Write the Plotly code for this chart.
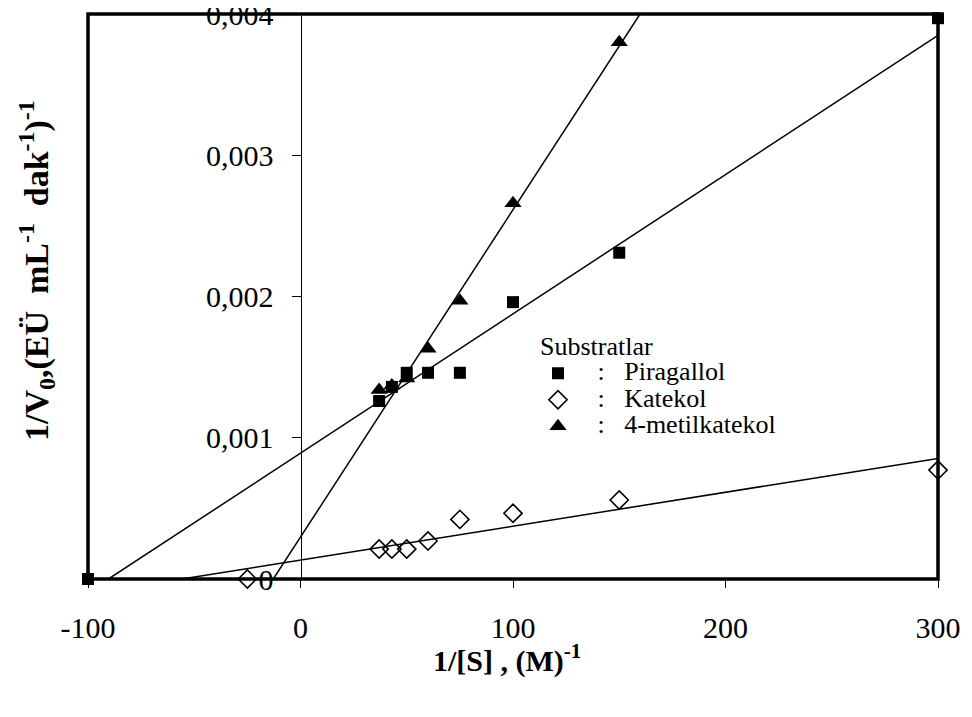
import plotly.graph_objects as go

# ---- data ----
series_names = ["Piragallol", "Katekol", "4-metilkatekol"]

pir_x = [-100, 37, 43, 50, 60, 75, 100, 150, 300]
pir_y = [0.0, 0.00126, 0.00136, 0.00146, 0.00146, 0.00146, 0.00196, 0.00231, 0.00397]

kat_x = [-25, 37, 43, 50, 60, 75, 100, 150, 300]
kat_y = [0.0, 0.000212, 0.000212, 0.000212, 0.000269, 0.000422, 0.000465, 0.000559, 0.000771]

met_x = [37, 43, 50, 60, 75, 100, 150]
met_y = [0.001338, 0.00137, 0.00142, 0.00163, 0.00197, 0.00266, 0.0038]

# Lineweaver-Burk fit lines: slope, intercept
fit_slope = [9.86e-6, 2.40e-6, 2.3175e-5]
fit_intercept = [0.000891, 0.000134, 0.000297]

x_ticks = [-100, 0, 100, 200, 300]
x_tick_text = ["-100", "0", "100", "200", "300"]
y_ticks = [0, 0.001, 0.002, 0.003, 0.004]
y_tick_text = ["0", "0,001", "0,002", "0,003", "0,004"]

x_range = [-100, 300]
y_range = [0, 0.004]

FONT = "Liberation Serif, Times New Roman, serif"

fig = go.Figure()

# regression lines
for m, b in zip(fit_slope, fit_intercept):
    x0 = -b / m
    x1 = min(x_range[1], (y_range[1] - b) / m)
    fig.add_trace(go.Scatter(x=[x0, x1], y=[m * x0 + b, m * x1 + b], mode="lines",
                             line=dict(color="black", width=1.5), showlegend=False,
                             hoverinfo="skip", cliponaxis=False))

def lab(name):
    nb = "\u00a0"
    return f'<span style="font-size:26px">{nb*3}:{nb*3}{name}</span>'

fig.add_trace(go.Scatter(x=pir_x, y=pir_y, mode="markers", name=lab(series_names[0]),
                         marker=dict(symbol="square", size=12, color="black"), cliponaxis=False))
fig.add_trace(go.Scatter(x=kat_x, y=kat_y, mode="markers", name=lab(series_names[1]),
                         marker=dict(symbol="diamond-open", size=14, color="black",
                                     line=dict(width=1.6, color="black")), cliponaxis=False))
fig.add_trace(go.Scatter(x=met_x, y=met_y, mode="markers", name=lab(series_names[2]),
                         marker=dict(symbol="triangle-up", size=15, color="black"), cliponaxis=False))

nb2 = "\u00a0 "
fig.update_layout(
    width=956, height=701,
    margin=dict(l=80, r=26, t=6, b=130, autoexpand=False),
    paper_bgcolor="white", plot_bgcolor="white",
    font=dict(family=FONT, color="black", size=30),
    xaxis=dict(range=x_range, tickvals=x_ticks, ticktext=x_tick_text, ticks="outside", ticklen=8,
               tickwidth=1, tickcolor="black", showgrid=False, zeroline=False, showline=False,
               tickfont=dict(size=30, family=FONT), ticklabelstandoff=14, automargin=False),
    yaxis=dict(range=[y_range[0], y_range[1] * 1.00001], tickvals=y_ticks, ticktext=y_tick_text,
               ticks="outside", ticklen=9, tickwidth=1, tickcolor="black", showgrid=False,
               zeroline=False, showline=True, linecolor="black", linewidth=1, anchor="free",
               position=0.25, tickfont=dict(size=30, family=FONT), ticklabelstandoff=12,
               ticklabeloverflow="allow", automargin=False),
    showlegend=True,
    legend=dict(x=(538 - 88) / 850, y=0.456, xanchor="left", yanchor="top",
                bgcolor="rgba(0,0,0,0)", font=dict(size=18, family=FONT),
                title=dict(text="Substratlar", font=dict(size=26, family=FONT)),
                tracegroupgap=0, itemclick=False),
    shapes=[dict(type="rect", xref="paper", yref="paper", x0=0, x1=1, y0=0, y1=1,
                 line=dict(color="black", width=3.5), layer="above")],
    annotations=[
        dict(text="<b>1/[S] , (M)<sup>-1</sup></b>", xref="paper", yref="paper",
             x=(507 - 88) / 850, y=(579 - 658) / 565,
             xanchor="center", yanchor="middle", showarrow=False, font=dict(size=30, family=FONT)),
        dict(text=f"<b>1/V<sub>0</sub>,(EÜ{nb2}mL<sup>-1</sup>{nb2}dak<sup>-1</sup>)<sup>-1</sup></b>",
             xref="paper", yref="paper", x=(36 - 88) / 850, y=(579 - 271) / 565, textangle=-90,
             xanchor="center", yanchor="middle", showarrow=False, font=dict(size=34, family=FONT)),
    ],
)

fig.write_html("out.html")
